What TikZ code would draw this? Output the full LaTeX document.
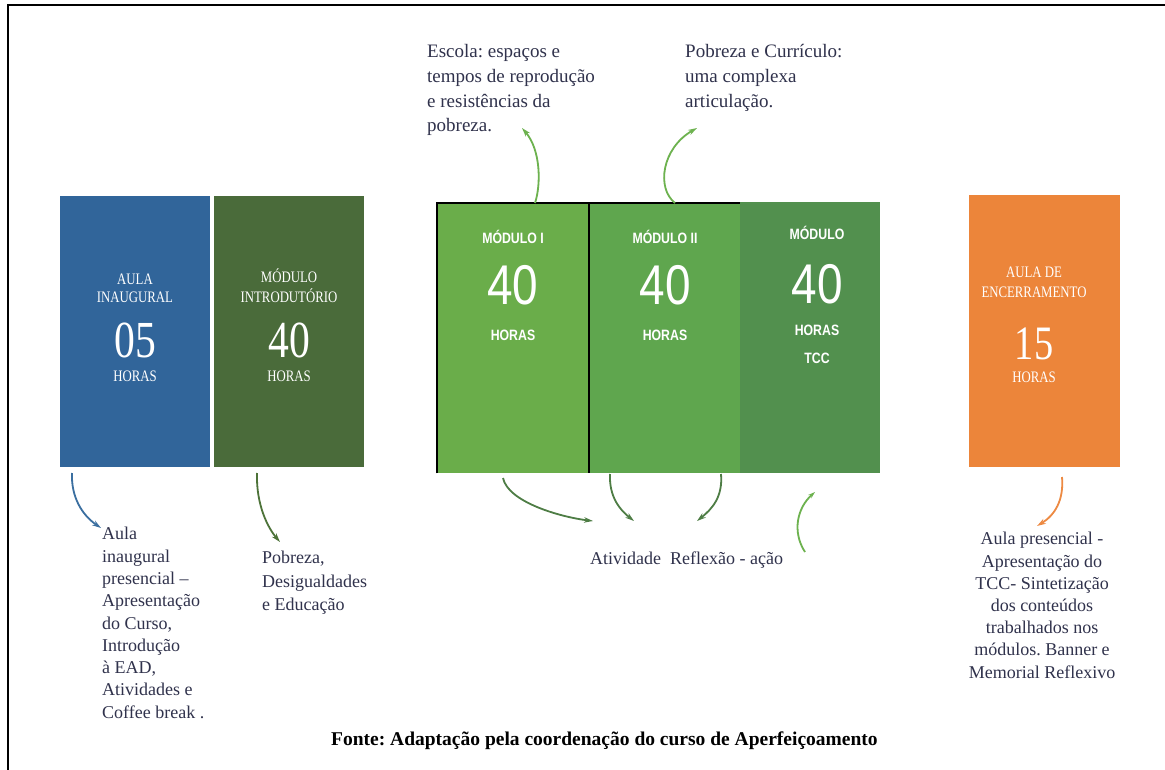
\documentclass[tikz,border=0pt]{standalone}
\usepackage{fontspec}
\setmainfont{Liberation Serif}
\newfontfamily\boxserif[FakeStretch=0.8]{Liberation Serif}
\newfontfamily\boxsans[FakeStretch=0.82]{Liberation Sans}
\usetikzlibrary{arrows.meta}
\frenchspacing
\definecolor{cblue}{HTML}{31659A}
\definecolor{cdkgreen}{HTML}{4A6B3A}
\definecolor{cmodA}{HTML}{6AAD4A}
\definecolor{cmodB}{HTML}{5FA64E}
\definecolor{cmodC}{HTML}{52904E}
\definecolor{corange}{HTML}{EC853A}
\definecolor{ctext}{HTML}{30324C}
\definecolor{aLight}{HTML}{6DB24F}
\definecolor{aBlue}{HTML}{3B6FA0}
\definecolor{aDark}{HTML}{4D7339}
\definecolor{aMod}{HTML}{4E7D45}
\definecolor{aOrange}{HTML}{ED8A43}
\begin{document}
\begin{tikzpicture}[x=1pt,y=-1pt,
  colbox/.style={draw=none,inner sep=0,anchor=north west,minimum width=#1},
  serifcap/.style={text=white,inner sep=0,anchor=base,font=\boxserif\fontsize{16}{18}\selectfont},
  serifnum/.style={text=white,inner sep=0,anchor=base,font=\boxserif\fontsize{52}{56}\selectfont},
  sanscap/.style={text=white,inner sep=0,anchor=base,font=\boxsans\bfseries\fontsize{15}{17}\selectfont},
  sansnum/.style={text=white,inner sep=0,anchor=base,font=\boxsans\fontsize{56}{60}\selectfont},
  note/.style={text=ctext,inner sep=0,font=\fontsize{18}{22.3}\selectfont},
  conn/.style={line width=1.8pt,-{Stealth[length=9pt,width=5.5pt]}}
]
\useasboundingbox (0,0) rectangle (1165,770);
\fill[white] (0,0) rectangle (1165,770);
% frame
\draw[line width=2.5pt] (8,770) -- (8,5) -- (1165,5);

% boxes
\node[colbox=150pt,minimum height=271pt,fill=cblue] (ai) at (60,196) {};
\node[colbox=150pt,minimum height=271pt,fill=cdkgreen] (mi) at (214,196) {};
\node[colbox=152pt,minimum height=270pt,fill=cmodA] (m1) at (437,203) {};
\node[colbox=151pt,minimum height=270pt,fill=cmodB] (m2) at (589,203) {};
\node[colbox=140pt,minimum height=271pt,fill=cmodC] (m3) at (740,202) {};
\node[colbox=151pt,minimum height=272pt,fill=corange] (ae) at (969,195) {};
\draw[line width=1.5pt] (m1.south west) -- (m1.north west) -- (m2.north east);
\draw[line width=1.5pt] (m2.north west) -- (m2.south west);

% box texts
\node[serifcap] (aiA) at (135,284) {AULA};
\node[serifcap] (aiB) at (135,302.5) {INAUGURAL};
\node[serifnum] (aiN) at (135,357.5) {05};
\node[serifcap] (aiH) at (135,381) {HORAS};

\node[serifcap] (miA) at (289,283) {MÓDULO};
\node[serifcap] (miB) at (289,302.5) {INTRODUTÓRIO};
\node[serifnum] (miN) at (289,357.5) {40};
\node[serifcap] (miH) at (289,381) {HORAS};

\node[sanscap] (m1A) at (513,243.5) {MÓDULO I};
\node[sansnum] (m1N) at (513,305) {40};
\node[sanscap] (m1H) at (513,340.5) {HORAS};

\node[sanscap] (m2A) at (665,243.5) {MÓDULO II};
\node[sansnum] (m2N) at (665,305) {40};
\node[sanscap] (m2H) at (665,340.5) {HORAS};

\node[sanscap] (m3A) at (817,239.5) {MÓDULO};
\node[sansnum] (m3N) at (817,303) {40};
\node[sanscap] (m3H) at (817,335.5) {HORAS};
\node[sanscap] (m3T) at (817,363.5) {TCC};

\node[serifcap] (aeA) at (1034,277.5) {AULA DE};
\node[serifcap] (aeB) at (1034,297.5) {ENCERRAMENTO};
\node[serifnum,font=\boxserif\fontsize{48}{52}\selectfont] (aeN) at (1034,359) {15};
\node[serifcap] (aeH) at (1034,382) {HORAS};

% annotation texts
\node[note,font=\fontsize{19}{24.7}\selectfont,anchor=north west,align=left] (t1) at (427,44.5)
  {Escola: espaços e\\tempos de reprodução\\e resistências da\\pobreza.};
\node[note,font=\fontsize{19}{24.7}\selectfont,anchor=north west,align=left] (t2) at (685,44.5)
  {Pobreza e Currículo:\\uma complexa\\articulação.};
\node[note,anchor=north west,align=left] (b1) at (102,527.2)
  {Aula\\inaugural\\presencial –\\Apresentação\\do Curso,\\Introdução\\à EAD,\\Atividades e\\Coffee break .};
\node[note,font=\fontsize{18}{23.4}\selectfont,anchor=north west,align=left] (b2) at (262,551.2)
  {Pobreza,\\Desigualdades\\e Educação};
\node[note,anchor=base west] (b3) at (590,564.5) {Atividade\ \ Reflexão - ação};
\node[note,font=\fontsize{18}{22.2}\selectfont,anchor=north,align=center] (b4) at (1042,532.2)
  {Aula presencial -\\Apresentação do\\TCC- Sintetização\\dos conteúdos\\trabalhados nos\\módulos. Banner e\\Memorial Reflexivo};
\node[inner sep=0,anchor=base west,font=\bfseries\fontsize{19.5}{22}\selectfont] (src) at (331,745.5)
  {Fonte: Adaptação pela coordenação do curso de Aperfeiçoamento};

% connector end points
\coordinate (t1s) at (535,203);
\coordinate (t1e) at (522,128);
\coordinate (t2s) at (675,203);
\coordinate (t2e) at (697,128);
\coordinate (aiS) at (72,473);
\coordinate (aiE) at (101,528);
\coordinate (miS) at (257,473);
\coordinate (miE) at (280,542);
\coordinate (cAs) at (503,478);
\coordinate (cAe) at (593,521);
\coordinate (cBs) at (610,474);
\coordinate (cBe) at (634,521);
\coordinate (cCs) at (721,474);
\coordinate (cCe) at (697,521);
\coordinate (cDs) at (805,552);
\coordinate (cDe) at (815,492);
\coordinate (aeS) at (1062,477);
\coordinate (aeE) at (1037,526);

% connectors
\draw[conn,aLight] (t1s) .. controls (541,185) and (541,150) .. (t1e);
\draw[conn,aLight] (t2s) .. controls (656,188) and (662,148) .. (t2e);
\draw[conn,aBlue] (aiS) .. controls (71,497) and (82,515) .. (aiE);
\draw[conn,aDark] (miS) .. controls (256,505) and (268,528) .. (miE);
\draw[conn,aMod] (cAs) .. controls (508,502) and (560,517) .. (cAe);
\draw[conn,aMod] (cBs) .. controls (609,497) and (620,510) .. (cBe);
\draw[conn,aMod] (cCs) .. controls (723,497) and (712,509) .. (cCe);
\draw[line width=1.8pt,-{Stealth[length=7pt,width=4.5pt]},aLight] (cDs) .. controls (792,532) and (797,508) .. (cDe);
\draw[conn,aOrange] (aeS) .. controls (1064,500) and (1055,515) .. (aeE);
\end{tikzpicture}
\end{document}
